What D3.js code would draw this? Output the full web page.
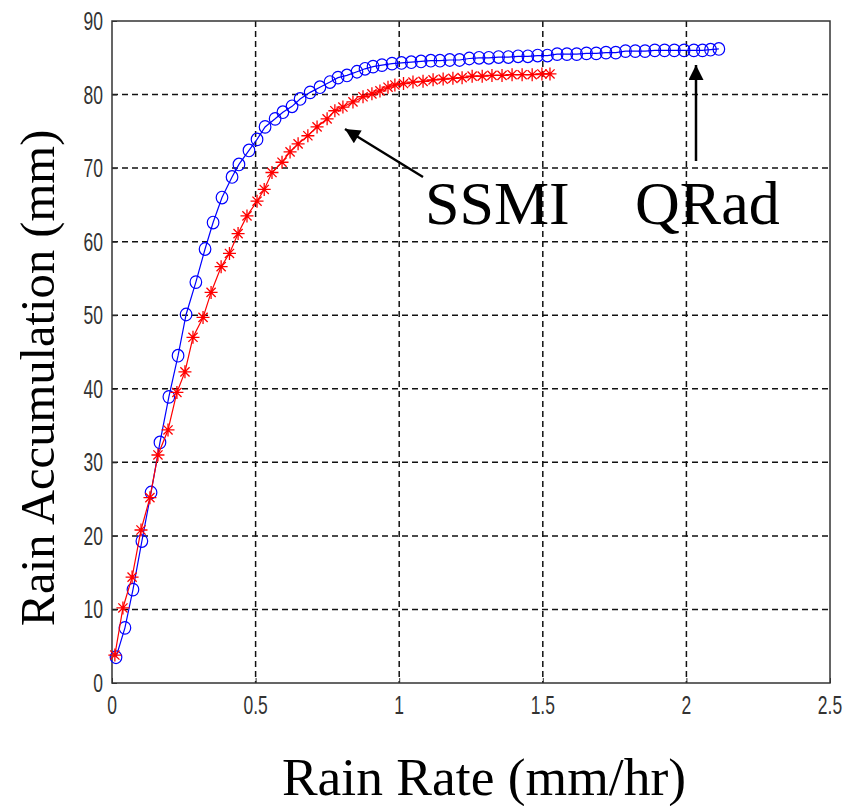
<!DOCTYPE html>
<html><head><meta charset="utf-8">
<script src="https://cdn.jsdelivr.net/npm/d3@7"></script>
<style>html,body{margin:0;padding:0;background:#fff;}</style>
</head><body>
<svg id="chart" width="847" height="806"></svg>
<script>
const xTicks = [0, 0.5, 1, 1.5, 2, 2.5];
const xTickLabels = ["0", "0.5", "1", "1.5", "2", "2.5"];
const yTicks = [0, 10, 20, 30, 40, 50, 60, 70, 80, 90];
const yTickLabels = ["0", "10", "20", "30", "40", "50", "60", "70", "80", "90"];

const qradX = [0.014,0.045,0.073,0.104,0.136,0.167,0.198,0.230,0.258,0.292,0.324,0.352,0.383,0.418,0.442,0.477,0.505,0.533,0.568,0.595,0.627,0.655,0.690,0.724,0.759,0.787,0.818,0.853,0.881,0.909,0.940,0.975,1.008,1.042,1.076,1.110,1.142,1.176,1.210,1.244,1.278,1.312,1.346,1.380,1.414,1.448,1.482,1.516,1.550,1.584,1.618,1.652,1.686,1.720,1.754,1.788,1.822,1.856,1.890,1.924,1.958,1.992,2.026,2.056,2.084,2.113];
const qradY = [3.5,7.5,12.7,19.3,25.9,32.7,38.9,44.5,50.1,54.5,59.0,62.6,66.0,68.8,70.5,72.4,73.9,75.6,76.7,77.6,78.4,79.4,80.3,81.0,81.7,82.3,82.6,83.1,83.5,83.8,84.0,84.2,84.3,84.4,84.5,84.6,84.6,84.7,84.7,84.9,85.0,85.0,85.1,85.1,85.2,85.2,85.3,85.3,85.5,85.5,85.5,85.6,85.6,85.7,85.7,85.9,85.9,85.9,86.0,86.0,86.0,86.0,86.0,86.0,86.1,86.2];

const ssmiX = [0.010,0.038,0.070,0.101,0.132,0.160,0.195,0.226,0.254,0.282,0.317,0.345,0.380,0.409,0.439,0.470,0.505,0.530,0.557,0.592,0.620,0.648,0.682,0.714,0.749,0.776,0.804,0.839,0.874,0.905,0.933,0.961,0.985,1.015,1.048,1.083,1.118,1.153,1.187,1.219,1.254,1.289,1.323,1.358,1.393,1.428,1.463,1.497,1.525];
const ssmiY = [3.8,10.2,14.4,20.8,25.2,31.0,34.4,39.5,42.3,47.0,49.7,53.1,56.6,58.4,61.1,63.5,65.5,67.1,69.4,70.8,72.2,73.3,74.4,75.6,76.7,77.8,78.3,79.0,79.7,80.1,80.5,81.0,81.3,81.5,81.7,81.8,82.0,82.1,82.2,82.3,82.5,82.5,82.6,82.6,82.7,82.7,82.7,82.8,82.8];

const xTitle = "Rain Rate (mm/hr)";
const yTitle = "Rain Accumulation (mm)";
const ssmiLabel = "SSMI";
const qradLabel = "QRad";

const svg = d3.select("#chart");
const L = 112, R = 830, T = 21, B = 683;
const x = d3.scaleLinear().domain([0, 2.5]).range([L, R]);
const y = d3.scaleLinear().domain([0, 90]).range([B, T]);

// grid
const grid = svg.append("g").attr("stroke", "#111").attr("stroke-width", 1.5).attr("stroke-dasharray", "6,4");
xTicks.filter(t => t > 0 && t < 2.5).forEach(t => {
  grid.append("line").attr("x1", x(t)).attr("x2", x(t)).attr("y1", T).attr("y2", B);
});
yTicks.filter(t => t > 0 && t < 90).forEach(t => {
  grid.append("line").attr("x1", L).attr("x2", R).attr("y1", y(t)).attr("y2", y(t));
});

// axes tick marks (inward)
const axB = svg.append("g").attr("transform", `translate(0,${B})`)
  .call(d3.axisBottom(x).tickValues(xTicks).tickSize(-5).tickFormat(""));
const axL = svg.append("g").attr("transform", `translate(${L},0)`)
  .call(d3.axisLeft(y).tickValues(yTicks).tickSize(-5).tickFormat(""));
[axB, axL].forEach(a => { a.select(".domain").remove(); a.selectAll("line").attr("stroke", "#333"); });

// frame
svg.append("rect").attr("x", L).attr("y", T).attr("width", R - L).attr("height", B - T)
  .attr("fill", "none").attr("stroke", "#333").attr("stroke-width", 1.5);

// tick labels
const tickFont = "'Liberation Sans', Arial, sans-serif";
xTicks.forEach((t, i) => {
  svg.append("text").attr("transform", `translate(${x(t)},${B + 31}) scale(0.7,1)`)
    .attr("text-anchor", "middle").attr("font-family", tickFont).attr("font-size", 25)
    .attr("fill", "#333").text(xTickLabels[i]);
});
yTicks.forEach((t, i) => {
  svg.append("text").attr("transform", `translate(${L - 9},${y(t) + 9}) scale(0.7,1)`)
    .attr("text-anchor", "end").attr("font-family", tickFont).attr("font-size", 25)
    .attr("fill", "#333").text(yTickLabels[i]);
});

// series
const qrad = qradX.map((v, i) => [v, qradY[i]]);
const ssmi = ssmiX.map((v, i) => [v, ssmiY[i]]);
const line = d3.line().x(d => x(d[0])).y(d => y(d[1]));

svg.append("path").datum(qrad).attr("d", line).attr("fill", "none").attr("stroke", "#0000ff").attr("stroke-width", 1.2);
svg.append("g").selectAll("ellipse").data(qrad).join("ellipse")
  .attr("cx", d => x(d[0])).attr("cy", d => y(d[1])).attr("rx", 5.8).attr("ry", 6.3)
  .attr("fill", "none").attr("stroke", "#0000ff").attr("stroke-width", 1.2);

svg.append("path").datum(ssmi).attr("d", line).attr("fill", "none").attr("stroke", "#ff0000").attr("stroke-width", 1.2);
const s = 6.5, d2 = 4.6;
svg.append("g").selectAll("path").data(ssmi).join("path")
  .attr("d", d => {
    const cx = x(d[0]), cy = y(d[1]);
    return `M${cx - s},${cy}L${cx + s},${cy}M${cx},${cy - s}L${cx},${cy + s}` +
           `M${cx - d2},${cy - d2}L${cx + d2},${cy + d2}M${cx - d2},${cy + d2}L${cx + d2},${cy - d2}`;
  })
  .attr("fill", "none").attr("stroke", "#ff0000").attr("stroke-width", 1.3);

// annotations
const defs = svg.append("defs");
defs.append("marker").attr("id", "ah").attr("viewBox", "0 0 10 10").attr("refX", 10).attr("refY", 5)
  .attr("markerWidth", 6.5).attr("markerHeight", 6).attr("markerUnits", "strokeWidth").attr("orient", "auto")
  .append("path").attr("d", "M0,0L10,5L0,10Z").attr("fill", "#000");

svg.append("line").attr("x1", 423).attr("y1", 177).attr("x2", 345).attr("y2", 129)
  .attr("stroke", "#000").attr("stroke-width", 2.5).attr("marker-end", "url(#ah)");
svg.append("line").attr("x1", 696).attr("y1", 161).attr("x2", 696).attr("y2", 65)
  .attr("stroke", "#000").attr("stroke-width", 2.5).attr("marker-end", "url(#ah)");

const serif = "'Liberation Serif', 'Times New Roman', serif";
svg.append("text").attr("x", 425).attr("y", 224).attr("font-family", serif).attr("font-size", 62).attr("fill", "#000").text(ssmiLabel);
svg.append("text").attr("x", 635).attr("y", 224).attr("font-family", serif).attr("font-size", 62).attr("fill", "#000").text(qradLabel);

// axis titles
svg.append("text").attr("x", 484).attr("y", 795).attr("text-anchor", "middle")
  .attr("font-family", serif).attr("font-size", 53.5).attr("fill", "#000").text(xTitle);
svg.append("text").attr("transform", "translate(54,378) rotate(-90)").attr("text-anchor", "middle")
  .attr("font-family", serif).attr("font-size", 48.6).attr("fill", "#000").text(yTitle);
</script>
</body></html>
